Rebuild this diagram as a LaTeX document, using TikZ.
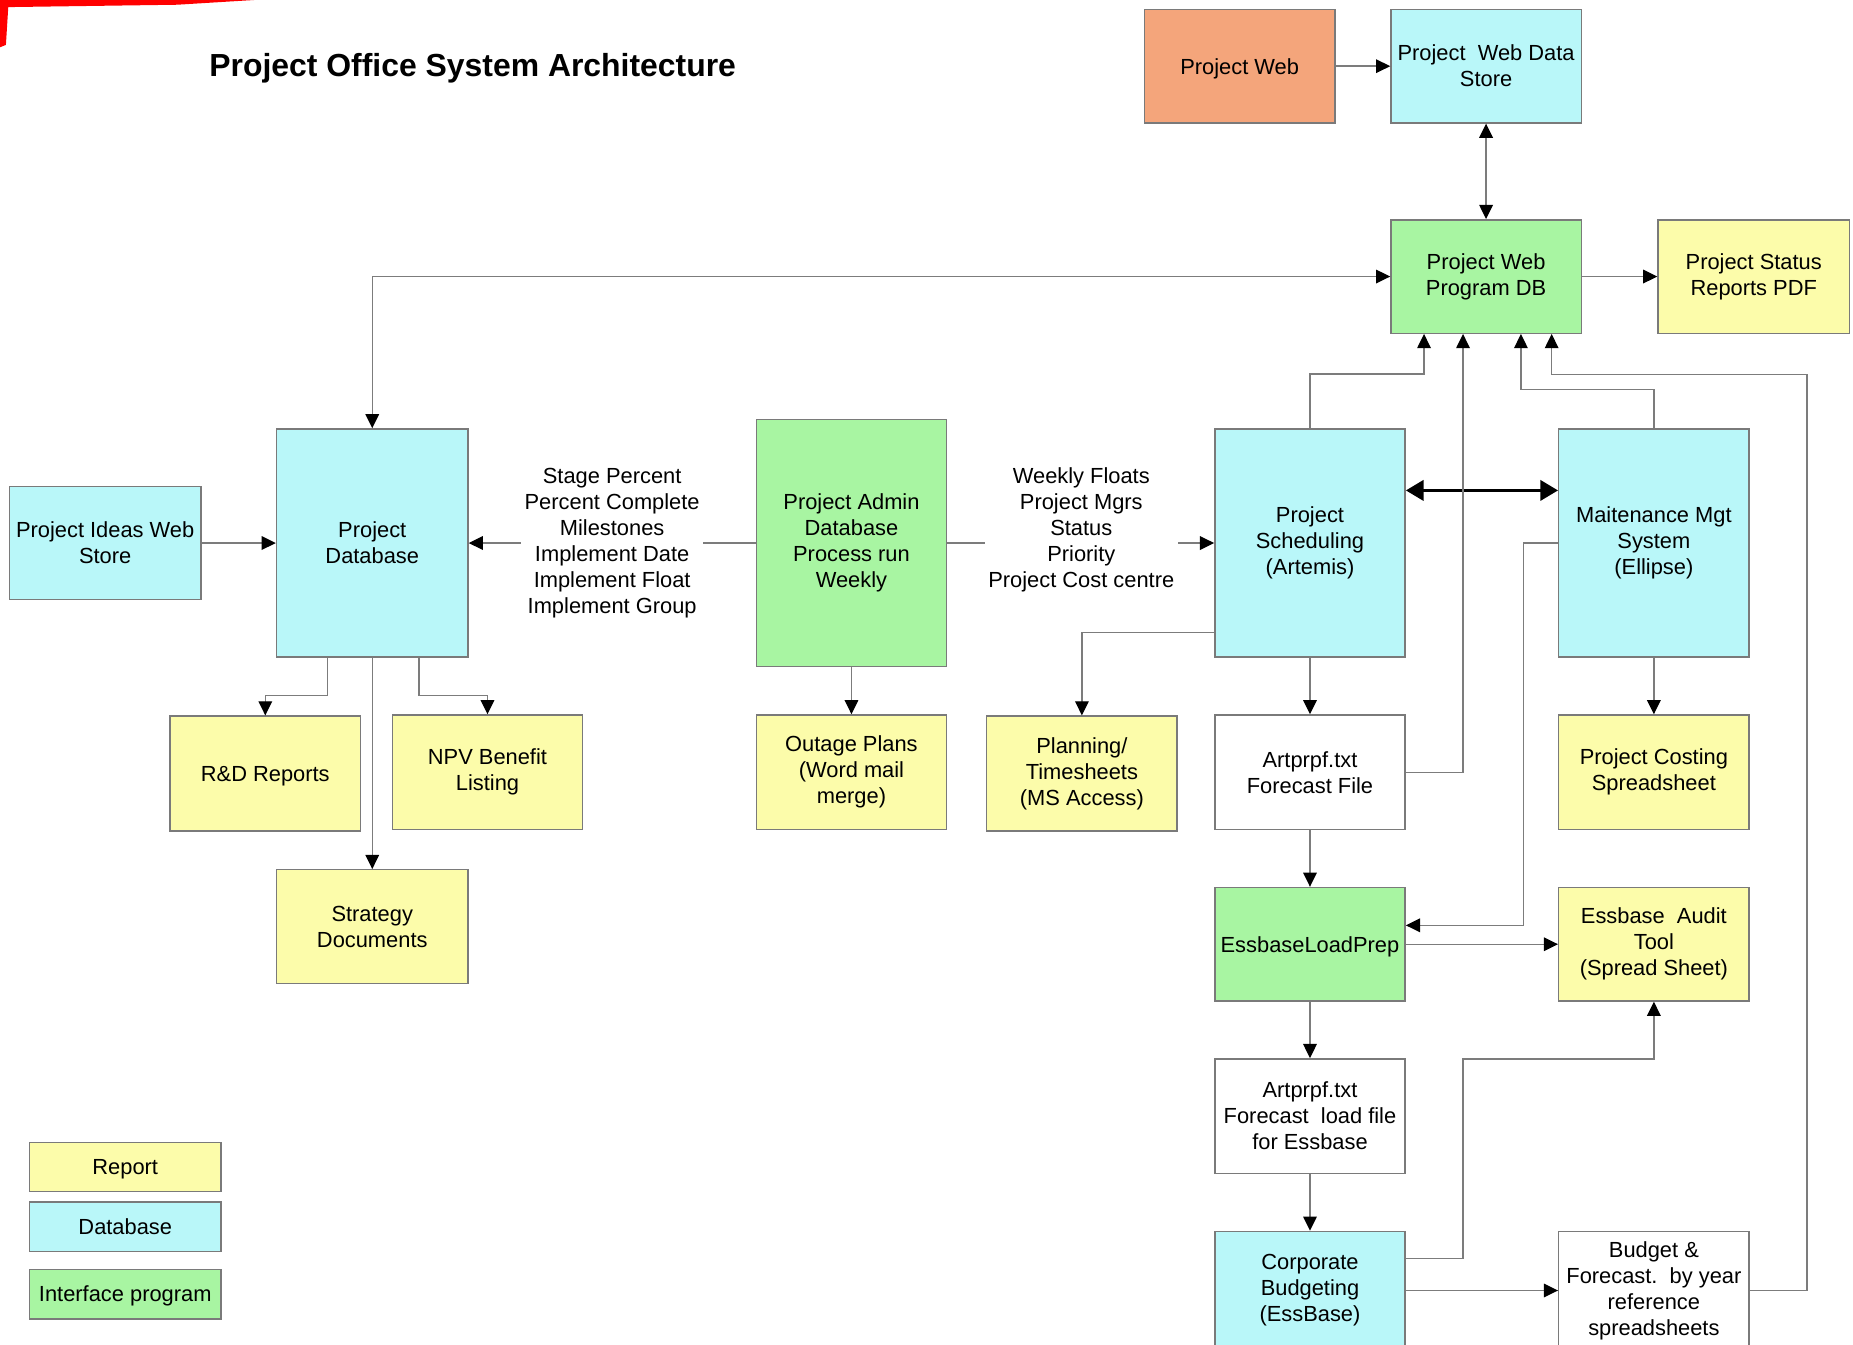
\documentclass[tikz,border=0pt]{standalone}
\usepackage{fontspec}
\setmainfont{Liberation Sans}
\usetikzlibrary{arrows.meta,calc}
\definecolor{cyanbox}{HTML}{B9F7F9}
\definecolor{greenbox}{HTML}{A8F5A2}
\definecolor{yellowbox}{HTML}{FCFCAA}
\definecolor{orangebox}{HTML}{F4A57B}
\definecolor{boxline}{HTML}{7A7A7A}
\definecolor{conline}{HTML}{7C7C7C}
\begin{document}
\begin{tikzpicture}[x=1pt,y=-1pt,
  >={Triangle[length=12pt,width=11.5pt,color=black]},
  box/.style={draw=boxline, line width=1.2pt, minimum width=161pt, align=center, inner sep=2pt, font=\fontsize{18.5}{22}\selectfont},
  oneline/.style={text depth=0pt},
  db/.style={box, fill=cyanbox},
  rep/.style={box, fill=yellowbox},
  ifc/.style={box, fill=greenbox},
  plainbox/.style={box, fill=white},
  webbox/.style={box, fill=orangebox},
  conn/.style={draw=conline, line width=1.2pt, ->},
  biconn/.style={draw=conline, line width=1.2pt, <->},
  heavy/.style={draw=black, line width=3pt, arrows={Triangle[length=15pt,width=17pt]-Triangle[length=15pt,width=17pt]}},
  lbl/.style={fill=white, inner sep=3pt, align=center, font=\fontsize{18.5}{22}\selectfont},
]
\useasboundingbox (0,0) rectangle (1568,1138);
\clip (0,0) rectangle (1568,1138);
\fill[white] (0,0) rectangle (1568,1138);
% red corner mark
\fill[red] (0,0) -- (215,0) -- (150,4) -- (7,6) -- (5,38) -- (0,40) -- cycle;

% title
\node[font=\bfseries\fontsize{27}{32}\selectfont] (title) at (400,57.5) {Project Office System Architecture};

% boxes
\node[webbox, oneline, minimum height=96pt] (pweb) at (1049,56) {Project Web};
\node[db, minimum height=96pt] (pwds) at (1257.5,56) {Project~~Web Data\\Store};
\node[ifc, minimum height=96pt] (pwpdb) at (1257.5,234) {Project Web\\Program DB};
\node[rep, minimum height=96pt, minimum width=162pt] (psr) at (1484,234) {Project Status\\Reports PDF};

\node[db, minimum height=96pt, minimum width=162pt] (ideas) at (89,459.5) {Project Ideas Web\\Store};
\node[db, minimum height=193pt, minimum width=162pt] (pdb) at (315,459.5) {Project\\Database};
\node[ifc, minimum height=209pt] (admin) at (720.5,459.5) {Project Admin\\Database\\Process run\\Weekly};
\node[db, minimum height=193pt] (sched) at (1108.5,459.5) {Project\\Scheduling\\(Artemis)};
\node[db, minimum height=193pt] (maint) at (1399.5,459.5) {Maitenance Mgt\\System\\(Ellipse)};

\node[rep, oneline, minimum height=97pt] (rd) at (224.5,654.5) {R\&D Reports};
\node[rep, minimum height=97pt] (npv) at (412.5,653.5) {NPV Benefit\\Listing};
\node[rep, minimum height=96pt, minimum width=162pt] (strat) at (315,784) {Strategy\\Documents};
\node[rep, minimum height=97pt] (outage) at (720.5,653.5) {Outage Plans\\(Word mail\\merge)};
\node[rep, minimum height=97pt] (plan) at (915.5,654.5) {Planning/\\Timesheets\\(MS Access)};
\node[plainbox, minimum height=97pt] (aff) at (1108.5,653.5) {Artprpf.txt\\Forecast File};
\node[rep, minimum height=97pt] (cost) at (1399.5,653.5) {Project Costing\\Spreadsheet};

\node[ifc, oneline, minimum height=96pt] (elp) at (1108.5,799) {EssbaseLoadPrep};
\node[rep, minimum height=96pt] (eat) at (1399.5,799) {Essbase~~Audit\\Tool\\(Spread Sheet)};
\node[plainbox, minimum height=97pt] (afl) at (1108.5,944.5) {Artprpf.txt\\Forecast~~load file\\for Essbase};
\node[db, minimum height=100pt] (cb) at (1108.5,1092) {Corporate\\Budgeting\\(EssBase)};
\node[plainbox, minimum height=100pt] (budget) at (1399.5,1092) {Budget \&\\Forecast.~~by year\\reference\\spreadsheets};

% legend
\node[rep, oneline, minimum height=41pt, minimum width=162pt] (lgrep) at (106,987.5) {Report};
\node[db, oneline, minimum height=42pt, minimum width=162pt] (lgdb) at (106,1038) {Database};
\node[ifc, oneline, minimum height=42pt, minimum width=162pt] (lgifc) at (106,1095) {Interface program};

% connectors
\draw[conn] (pweb.east) -- (pwds.west);
\draw[biconn] (pwds.south) -- (pwpdb.north);
\draw[conn] (pwpdb.east) -- (psr.west);
\draw[biconn] (pdb.north) |- (pwpdb.west);
\draw[conn] (ideas.east) -- (pdb.west);

\draw[conn] (admin.west) -- (pdb.east);
\node[lbl] (lblL) at (518,459.5) {Stage Percent\\Percent Complete\\Milestones\\Implement Date\\Implement Float\\Implement Group};
\draw[conn] (admin.east) -- (sched.west);
\node[lbl] (lblR) at (915,448.5) {Weekly Floats\\Project Mgrs\\Status\\Priority\\Project Cost centre};

\draw[conn] (admin.south) -- (outage.north);
\draw[conn] ([xshift=-38pt]pdb.south) -- ++(0,32) -| (rd.north);
\draw[conn] ([xshift=39.5pt]pdb.south) -- ++(0,32) -| (npv.north);
\draw[conn] (pdb.south) -- (strat.north);

\draw[conn] ([yshift=-75.5pt]sched.west) -| (plan.north);
\draw[conn] (sched.south) -- (aff.north);
\draw[conn] (aff.south) -- (elp.north);
\draw[conn] (elp.south) -- (afl.north);
\draw[conn] (afl.south) -- (cb.north);
\draw[conn] (maint.south) -- (cost.north);

\draw[heavy] ([yshift=44.5pt]sched.east) -- ([yshift=44.5pt]maint.west);

\draw[conn] (sched.north) -- ++(0,-46) -| ([xshift=-52.5pt]pwpdb.south);
\draw[conn] (aff.east) -| ([xshift=-19.5pt]pwpdb.south);
\draw[conn] (maint.north) -- ++(0,-33) -| ([xshift=29.5pt]pwpdb.south);
\coordinate (rr) at (1529,317);
\draw[conn] (budget.east) -| (rr) -| ([xshift=55.5pt]pwpdb.south);

\draw[conn] (maint.west) -- ([xshift=-29pt]maint.west) |- ([yshift=16pt]elp.east);
\draw[conn] (elp.east) -- (eat.west);
\coordinate (cbk) at (1238,896);
\draw[conn] ([yshift=27pt]cb.east) -| (cbk) -| (eat.south);
\draw[conn] (cb.east) -- (budget.west);
\end{tikzpicture}
\end{document}
